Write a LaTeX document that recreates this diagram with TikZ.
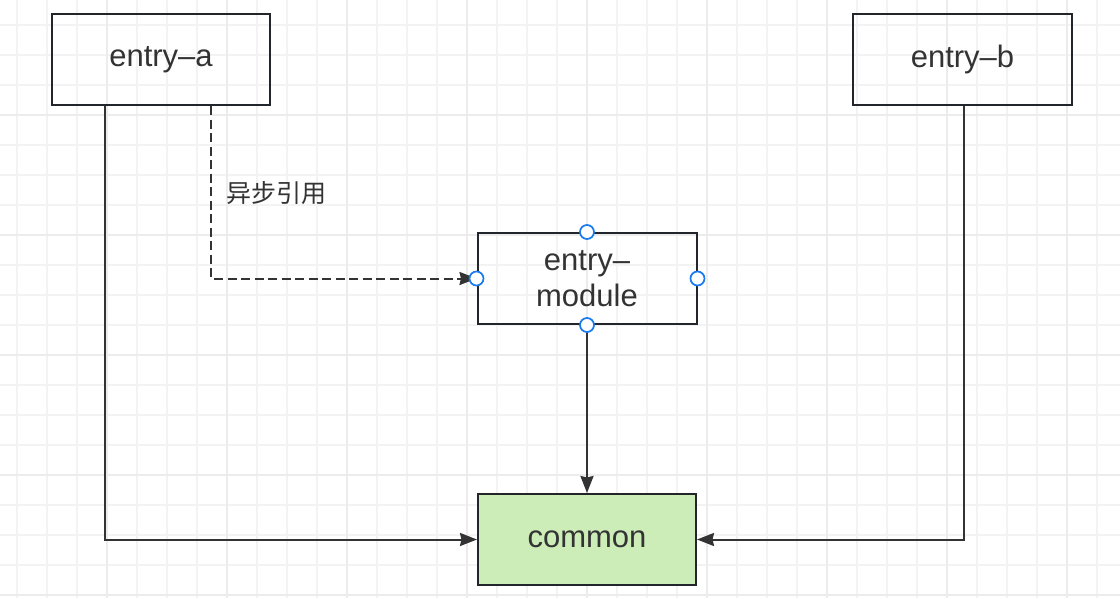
\documentclass[tikz,border=0pt]{standalone}
\usepackage{fontspec}
\setmainfont{Liberation Sans}
\newfontfamily\cjk{Noto Sans CJK SC}
\usetikzlibrary{arrows.meta}
\definecolor{gridminor}{RGB}{243,243,243}
\definecolor{gridmajor}{RGB}{236,236,236}
\definecolor{boxline}{RGB}{34,38,43}
\definecolor{linecol}{RGB}{51,51,51}
\definecolor{txtcol}{RGB}{51,51,51}
\definecolor{greenfill}{RGB}{204,236,184}
\definecolor{handle}{RGB}{26,122,240}
\tikzset{
  minorline/.style={draw=gridminor, line width=1.5pt},
  majorline/.style={draw=gridmajor, line width=1.8pt},
  boxnode/.style={draw=boxline, line width=2pt, rectangle, minimum width=218pt, minimum height=91pt, inner sep=0pt, text=txtcol, font=\fontsize{31}{36}\selectfont, align=center},
  conn/.style={draw=linecol, line width=2pt, -{Stealth[length=17pt,width=13pt,inset=1.5pt]}},
  dashconn/.style={conn, dash pattern=on 9pt off 4.5pt},
  handlenode/.style={circle, draw=handle, fill=white, line width=1.7pt, minimum size=14pt, inner sep=0pt},
  labelnode/.style={text=txtcol, font=\cjk\fontsize{25}{30}\selectfont, inner sep=0pt}
}
\begin{document}
\begin{tikzpicture}[x=1pt,y=-1pt]
\useasboundingbox (0,0) rectangle (1120,598);
\fill[white] (0,0) rectangle (1120,598);
% grid
\foreach \x in {17,47,...,1097} \draw[minorline] (\x,0) -- (\x,598);
\foreach \y in {25,55,...,595} \draw[minorline] (0,\y) -- (1120,\y);
\foreach \x in {107,227,...,1067} \draw[majorline] (\x,0) -- (\x,598);
\foreach \y in {115,235,...,595} \draw[majorline] (0,\y) -- (1120,\y);
% nodes
\node[boxnode] (entrya) at (161,59.5) {\raisebox{-2pt}{entry–a}};
\node[boxnode, minimum width=219pt] (entryb) at (962.5,59.5) {\raisebox{-2pt}{entry–b}};
\node[boxnode, minimum width=219pt] (module) at (587,278.5) {entry–\\module};
\node[boxnode, fill=greenfill] (common) at (587,539.5) {\raisebox{-1pt}{common}};
% connectors
\draw[conn] ([xshift=-56pt]entrya.south) |- (common.west);
\draw[dashconn] ([xshift=50pt]entrya.south) |- (module.west);
\draw[conn] (module.south) -- (common.north);
\draw[conn] ([xshift=1.5pt]entryb.south) |- (common.east);
% label
\node[labelnode] (lbl) at (276,193) {异步引用};
% handles
\node[handlenode] (hn) at (module.north) {};
\node[handlenode] (hw) at (module.west) {};
\node[handlenode] (he) at (module.east) {};
\node[handlenode] (hs) at (module.south) {};
\end{tikzpicture}
\end{document}
